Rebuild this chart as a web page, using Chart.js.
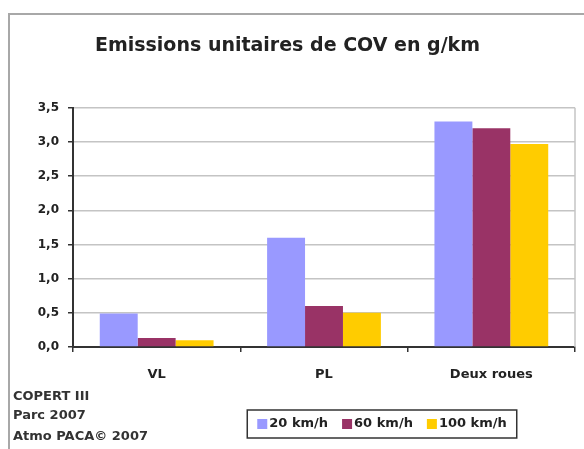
<!DOCTYPE html>
<html>
<head>
<meta charset="utf-8">
<script src="https://cdn.jsdelivr.net/npm/chart.js@4.4.0/dist/chart.umd.min.js"></script>
<style>
    html, body { margin: 0; padding: 0; background: #fff; }
    #wrap { position: relative; width: 584px; height: 449px; }
</style>
</head>
<body>
<div id="wrap"><canvas id="chart" width="584" height="449"></canvas></div>
<script>
// data
const categories = ['VL', 'PL', 'Deux roues'];
const seriesLabels = ['20 km/h', '60 km/h', '100 km/h'];
const seriesColors = ['#9999FF', '#993366', '#FFCC00'];
const speed20 = [0.49, 1.6, 3.3];
const speed60 = [0.13, 0.6, 3.2];
const speed100 = [0.1, 0.5, 2.97];
const yTicks = [0, 0.5, 1, 1.5, 2, 2.5, 3, 3.5];
const notes = ['COPERT III', 'Parc 2007', 'Atmo PACA© 2007'];

const FONT = "'DejaVu Sans', sans-serif";

// grey frame round the whole chart, plus right border of the plot
const framePlugin = {
    id: 'frame',
    beforeDraw(chart) {
        const ctx = chart.ctx;
        ctx.save();
        ctx.fillStyle = '#fff';
        ctx.fillRect(0, 0, chart.width, chart.height);
        ctx.strokeStyle = '#a8a8a8';
        ctx.lineWidth = 2;
        ctx.strokeRect(9, 14, 700, 600);
        ctx.restore();
    },
    afterDatasetsDraw(chart) {
        const ctx = chart.ctx;
        const area = chart.chartArea;
        ctx.save();
        ctx.strokeStyle = '#c4c4c4';
        ctx.lineWidth = 1.5;
        ctx.beginPath();
        ctx.moveTo(area.right, area.top);
        ctx.lineTo(area.right, area.bottom);
        ctx.stroke();
        ctx.restore();
    }
};

// boxed legend under the plot and the source notes on the left
const legendNotesPlugin = {
    id: 'legendNotes',
    afterDraw(chart) {
        const ctx = chart.ctx;
        ctx.save();
        ctx.font = 'bold 13px ' + FONT;
        ctx.textBaseline = 'middle';
        ctx.fillStyle = '#222';

        const sq = 10, gapSq = 2, gapItem = 14, pad = 10;
        const items = chart.data.datasets.map(ds => ({
            label: ds.label, color: ds.backgroundColor,
            w: sq + gapSq + ctx.measureText(ds.label).width
        }));
        const total = items.reduce((s, it) => s + it.w, 0) + gapItem * (items.length - 1) + pad * 2;
        const cx = 382, top = 410, h = 28;
        const left = cx - total / 2;
        ctx.strokeStyle = '#333';
        ctx.lineWidth = 1.5;
        ctx.strokeRect(left, top, total, h);

        let x = left + pad;
        const my = top + h / 2;
        items.forEach(it => {
            ctx.fillStyle = it.color;
            ctx.fillRect(x, my - sq / 2, sq, sq);
            ctx.fillStyle = '#222';
            ctx.fillText(it.label, x + sq + gapSq, my);
            x += it.w + gapItem;
        });

        ctx.font = 'bold 13px ' + FONT;
        ctx.fillStyle = '#333';
        const noteY = [397, 416, 437];
        notes.forEach((t, i) => ctx.fillText(t, 13, noteY[i]));
        ctx.restore();
    }
};

const ctx = document.getElementById('chart').getContext('2d');
new Chart(ctx, {
    type: 'bar',
    data: {
        labels: categories,
        datasets: [speed20, speed60, speed100].map((vals, i) => ({
            label: seriesLabels[i],
            data: vals,
            backgroundColor: seriesColors[i],
            borderWidth: 0,
            barPercentage: 1,
            categoryPercentage: 0.68
        }))
    },
    options: {
        responsive: false,
        animation: false,
        layout: { padding: { left: 0, right: 9, top: 0, bottom: 0 } },
        plugins: {
            legend: { display: false },
            tooltip: { enabled: false },
            title: {
                display: true,
                text: 'Emissions unitaires de COV en g/km',
                color: '#222',
                font: { family: FONT, size: 19, weight: 'bold' },
                padding: { top: 35, bottom: 50 }
            }
        },
        scales: {
            x: {
                grid: { offset: true, drawOnChartArea: false, tickLength: 5, tickColor: '#333', lineWidth: 1.5 },
                border: { color: '#333', width: 2 },
                ticks: { color: '#222', font: { family: FONT, size: 13, weight: 'bold' }, padding: 15 },
                afterFit(scale) { scale.height = 102; }
            },
            y: {
                min: 0,
                max: 3.5,
                afterBuildTicks(scale) { scale.ticks = yTicks.map(v => ({ value: v })); },
                grid: { color: '#c4c4c4', lineWidth: 1.5, tickLength: 5, tickColor: '#333' },
                border: { color: '#333', width: 2 },
                ticks: {
                    color: '#222',
                    font: { family: FONT, size: 12, weight: 'bold' },
                    padding: 9,
                    callback: v => v.toFixed(1).replace('.', ',')
                },
                afterFit(scale) { scale.width = 73; }
            }
        }
    },
    plugins: [framePlugin, legendNotesPlugin]
});
</script>
</body>
</html>
